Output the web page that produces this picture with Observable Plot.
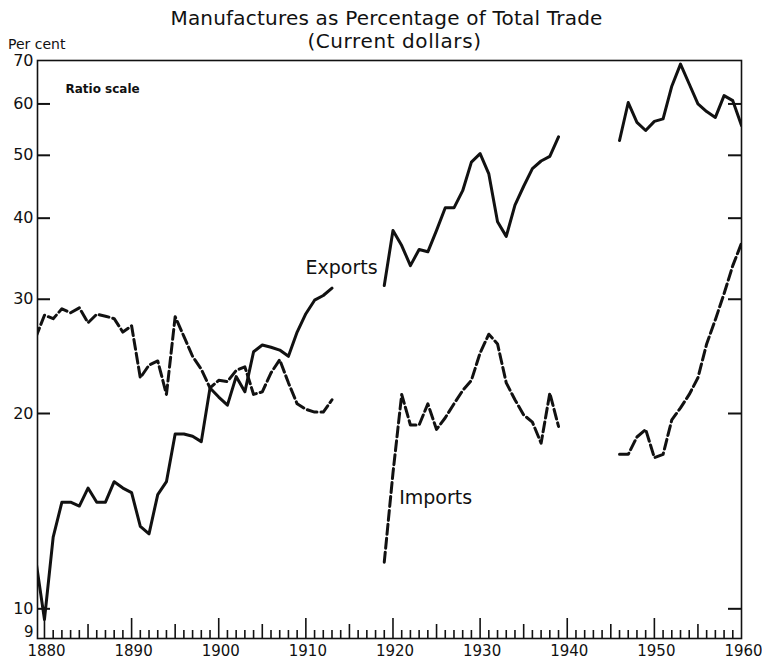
<!DOCTYPE html>
<html>
<head>
<meta charset="utf-8">
<script src="https://cdn.jsdelivr.net/npm/d3@7"></script>
<script src="https://cdn.jsdelivr.net/npm/@observablehq/plot@0.6"></script>
<style>
  body { margin: 0; background: #fff; }
  #wrap { position: relative; width: 762px; height: 659px; font-family: "DejaVu Sans", sans-serif; color: #111; }
  #wrap svg { position: absolute; left: 0; top: 0; }
  .t { position: absolute; white-space: nowrap; line-height: 1; }
</style>
</head>
<body>
<div id="wrap">
  <div id="chart"></div>
  <div class="t" style="left:0;width:773px;text-align:center;top:8px;font-size:20px;letter-spacing:0.2px;">Manufactures as Percentage of Total Trade</div>
  <div class="t" style="left:0;width:789px;text-align:center;top:31px;font-size:20px;letter-spacing:0.6px;">(Current dollars)</div>
  <div class="t" style="left:8px;top:37px;font-size:14px;">Per cent</div>
</div>
<script>
// ---- data (per cent, ratio scale) ----
const exportYears1 = d3.range(1879, 1914);
const exportValues1 = [11.9, 9.63, 12.9, 14.6, 14.6, 14.4, 15.35, 14.6, 14.6, 15.7, 15.35,
  15.1, 13.4, 13.05, 15.0, 15.7, 18.6, 18.6, 18.45, 18.1, 21.9,
  21.2, 20.6, 22.8, 21.6, 24.9, 25.5, 25.3, 25.05, 24.5, 26.7,
  28.5, 29.9, 30.4, 31.2];
const exportYears2 = d3.range(1919, 1940);
const exportValues2 = [31.5, 38.3, 36.3, 33.8, 35.8, 35.5, 38.3, 41.5, 41.5, 44.1, 48.8,
  50.3, 46.8, 39.5, 37.5, 41.9, 44.8, 47.7, 49.0, 49.8, 53.4];
const exportYears3 = d3.range(1946, 1961);
const exportValues3 = [52.7, 60.3, 56.2, 54.6, 56.4, 56.9, 63.9, 69.1, 64.4, 60.0, 58.4, 57.2, 61.8, 60.7, 55.6];

const importYears1 = d3.range(1879, 1914);
const importValues1 = [26.2, 28.35, 28.0, 29.0, 28.6, 29.1, 27.6, 28.45, 28.25, 28.0, 26.7,
  27.3, 22.7, 23.75, 24.1, 21.4, 28.2, 26.3, 24.5, 23.4, 21.9,
  22.5, 22.4, 23.3, 23.6, 21.4, 21.6, 23.1, 24.2, 22.3, 20.7,
  20.3, 20.1, 20.1, 21.0];
const importYears2 = d3.range(1919, 1940);
const importValues2 = [11.8, 16.2, 21.4, 19.2, 19.2, 20.7, 18.9, 19.7, 20.7, 21.7, 22.5,
  24.8, 26.5, 25.6, 22.3, 21.0, 19.9, 19.4, 18.0, 21.5, 19.1];
const importYears3 = d3.range(1946, 1961);
const importValues3 = [17.3, 17.3, 18.4, 18.9, 17.1, 17.3, 19.55, 20.4, 21.4, 22.7, 25.6, 27.9, 30.6, 33.8, 36.6];

const yTickLabels = [10, 20, 30, 40, 50, 60, 70];
const yBottomLabel = [9];
const yTickMarks = [10, 20, 30, 40, 50, 60];
const xLabelYears = [1880, 1890, 1900, 1910, 1920, 1930, 1940, 1950, 1960];
const allYears = d3.range(1880, 1960);

const labels = [
  {label: "Exports", year: 1914.1, value: 33.5},
  {label: "Imports", year: 1924.9, value: 14.8}
];

// ---- build tables ----
function seg(years, values, name, s) {
  return years.map((y, i) => ({year: y, value: values[i], series: name, seg: name + s}));
}
const exportsData = [
  ...seg(exportYears1, exportValues1, "Exports", 1),
  ...seg(exportYears2, exportValues2, "Exports", 2),
  ...seg(exportYears3, exportValues3, "Exports", 3)
];
const importsData = [
  ...seg(importYears1, importValues1, "Imports", 1),
  ...seg(importYears2, importValues2, "Imports", 2),
  ...seg(importYears3, importValues3, "Imports", 3)
];

const W = 762, H = 659, mT = 60, mL = 37, mR = 21, mB = 21;
const pw = W - mL - mR, ph = H - mT - mB;
const ink = "#111";

const chart = Plot.plot({
  width: W,
  height: H,
  marginTop: mT,
  marginLeft: mL,
  marginRight: mR,
  marginBottom: mB,
  style: {fontFamily: "DejaVu Sans, sans-serif", color: ink, background: "white"},
  x: {domain: [1879.2, 1960]},
  y: {type: "log", domain: [9, 70]},
  marks: [
    Plot.frame({stroke: ink, strokeWidth: 1.6}),
    Plot.axisY({ticks: yTickLabels, tickSize: 0, tickPadding: 4, tickFormat: d => String(d), fontSize: 16, label: null}),
    Plot.axisY({ticks: yBottomLabel, tickSize: 0, tickPadding: 4, tickFormat: d => String(d), fontSize: 15, dy: -6, label: null}),
    Plot.axisX({ticks: xLabelYears, tickSize: 0, tickPadding: 7, tickFormat: d => String(d), fontSize: 15, dx: 2, label: null}),
    // inward y ticks, left and right
    Plot.tickY(yTickMarks, {y: d => d, stroke: ink, strokeWidth: 2, insetRight: pw - 13}),
    Plot.tickY(yTickMarks, {y: d => d, stroke: ink, strokeWidth: 2, insetLeft: pw - 13}),
    // inward x ticks: yearly, 5-year, decade
    Plot.tickX(allYears.filter(y => y % 5 !== 0), {x: d => d, stroke: ink, strokeWidth: 1.6, insetTop: ph - 8}),
    Plot.tickX(allYears.filter(y => y % 5 === 0 && y % 10 !== 0), {x: d => d, stroke: ink, strokeWidth: 1.6, insetTop: ph - 14}),
    Plot.tickX(allYears.filter(y => y % 10 === 0), {x: d => d, stroke: ink, strokeWidth: 1.6, insetTop: ph - 20}),
    // series
    Plot.line(exportsData, {x: "year", y: "value", z: "seg", stroke: ink, strokeWidth: 3, clip: true}),
    Plot.line(importsData, {x: "year", y: "value", z: "seg", stroke: ink, strokeWidth: 3, strokeDasharray: "10,4", clip: true}),
    // annotations
    Plot.text(labels, {x: "year", y: "value", text: "label", fontSize: 19, fill: ink}),
    Plot.text(["Ratio scale"], {frameAnchor: "top-left", dx: 28, dy: 24, text: d => d, textAnchor: "start", fontSize: 12, fontWeight: "bold", fill: ink})
  ]
});
document.getElementById("chart").appendChild(chart);
</script>
</body>
</html>
